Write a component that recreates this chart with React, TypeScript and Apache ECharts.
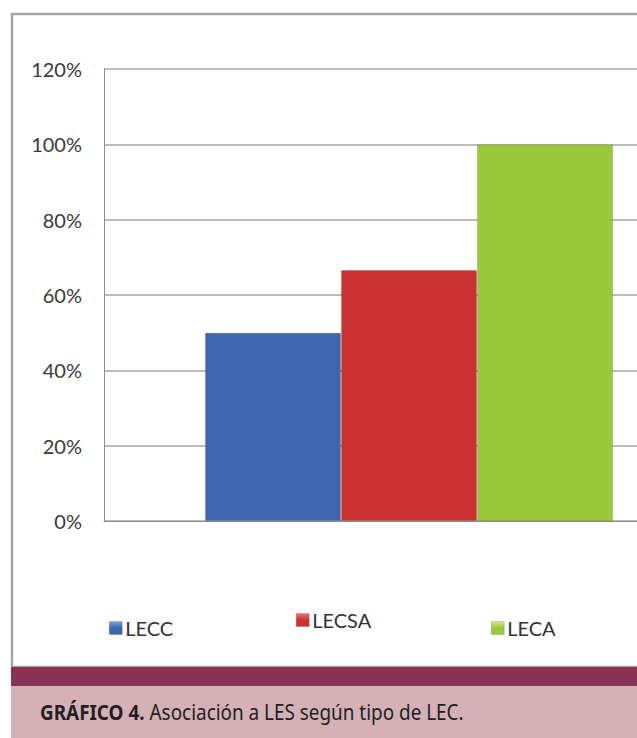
import React, { useEffect, useRef } from "react";
import * as echarts from "echarts";

const categories = [""];
const seriesNames = ["LECC", "LECSA", "LECA"];
const seriesValues = [0.5, 0.6667, 1.0];
const seriesColors = ["#3f66b0", "#cd3232", "#9aca3c"];
const legendLight = ["#7fa3e0", "#f07070", "#cfe889"];
const yTicks = { min: 0, max: 1.2, interval: 0.2 };
const captionBold = "GRÁFICO 4.";
const captionText = " Asociación a LES según tipo de LEC.";

export default function App() {
  const ref = useRef<HTMLDivElement>(null);
  useEffect(() => {
    if (!ref.current) return;
    const chart = echarts.init(ref.current, undefined, { renderer: "svg" });
    const legendPos = [
      { left: 104, top: 613 },
      { left: 291, top: 605 },
      { left: 486, top: 613 },
    ];
    chart.setOption({
      animation: false,
      backgroundColor: "#ffffff",
      grid: { left: 104, top: 69, bottom: 217, right: 0, containLabel: false },
      xAxis: {
        type: "category",
        data: categories,
        axisLine: { show: true, lineStyle: { color: "#8c8c8c", width: 1 } },
        axisTick: { show: false },
        axisLabel: { show: false },
      },
      yAxis: {
        type: "value",
        min: yTicks.min,
        max: yTicks.max,
        interval: yTicks.interval,
        axisLine: { show: true, lineStyle: { color: "#8c8c8c", width: 1 } },
        axisTick: { show: false },
        splitLine: { show: true, lineStyle: { color: "#a6a6a6", width: 1.5 } },
        axisLabel: {
          margin: 22,
          fontSize: 20,
          fontFamily: "Lato",
          color: "#3a3a3a",
          formatter: (v: number) => Math.round(v * 100) + "%",
        },
      },
      legend: seriesNames.map((n, i) => ({
        data: [n],
        left: legendPos[i].left,
        top: legendPos[i].top,
        icon: "rect",
        itemWidth: 13,
        itemHeight: 13,
        itemGap: 4,
        itemStyle: {
          color: new echarts.graphic.LinearGradient(0, 0, 0, 1, [
            { offset: 0, color: legendLight[i] },
            { offset: 0.5, color: seriesColors[i] },
            { offset: 1, color: seriesColors[i] },
          ]),
          borderColor: "rgba(0,0,0,0.25)",
          borderWidth: 0.5,
        },
        textStyle: { fontSize: 20, fontFamily: "Lato", color: "#333333", padding: [0, 0, 0, -2] },
        selectedMode: false,
      })),
      series: seriesNames.map((n, i) => ({
        name: n,
        type: "bar",
        data: [seriesValues[i]],
        barWidth: 136,
        barGap: "0%",
        itemStyle: { color: seriesColors[i], borderColor: "rgba(0,0,0,0.15)", borderWidth: 1 },
      })),
      graphic: [
        {
          type: "rect",
          z: -10,
          shape: { x: 12, y: 14, width: 700, height: 667 - 14 },
          style: { fill: "none", stroke: "#a6a6a6", lineWidth: 2.5 },
        },
        {
          type: "rect",
          shape: { x: 11, y: 667, width: 720, height: 19 },
          style: { fill: "#8b3252" },
        },
        {
          type: "rect",
          shape: { x: 11, y: 686, width: 720, height: 52 },
          style: { fill: "#d3b1b7" },
        },
        {
          type: "text",
          x: 40,
          y: 712,
          scaleX: 0.9,
          style: {
            text: "{b|" + captionBold + "}{r|" + captionText + "}",
            verticalAlign: "middle",
            rich: {
              b: { fontFamily: "Noto Sans", fontWeight: "bold", fontSize: 21, fill: "#231f20" },
              r: { fontFamily: "Noto Sans", fontSize: 21, fill: "#231f20" },
            },
          },
        },
      ],
    });
    return () => chart.dispose();
  }, []);
  return (
    <div style={{ position: "fixed", left: 0, top: 0, width: 637, height: 738, overflow: "hidden" }}>
      <div ref={ref} style={{ width: 714, height: 738 }} />
    </div>
  );
}
